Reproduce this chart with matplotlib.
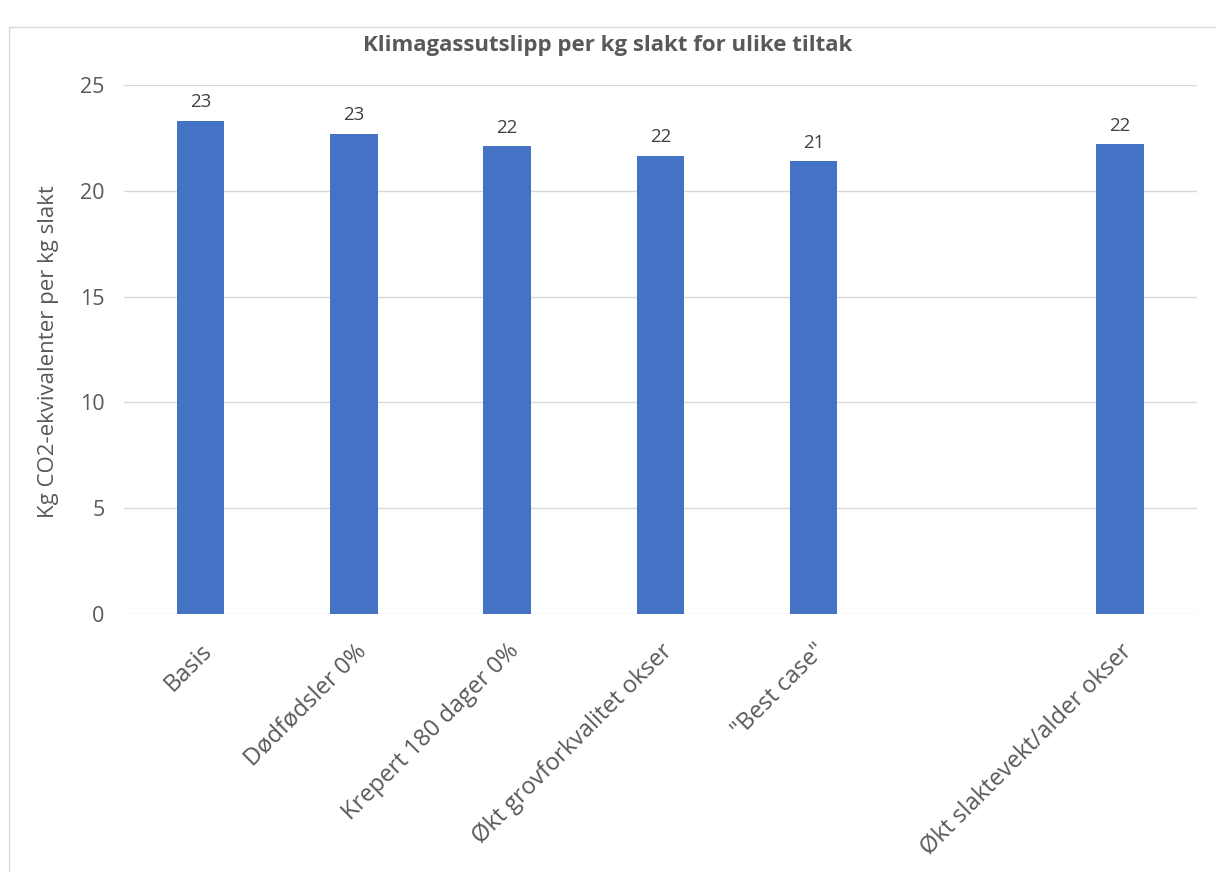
import matplotlib.pyplot as plt
from matplotlib.patches import Rectangle

# ---------- Data ----------
categories = ["Basis", "Dødfødsler 0%", "Krepert 180 dager 0%",
              "Økt grovforkvalitet okser", "\"Best case\"", "",
              "Økt slaktevekt/alder okser"]
values = [23.3, 22.7, 22.1, 21.65, 21.4, None, 22.2]
labels = ["23", "23", "22", "22", "21", "", "22"]

plt.rcParams["font.family"] = ["Open Sans", "DejaVu Sans"]
grey = "#595959"

fig = plt.figure(figsize=(12.16, 8.72), dpi=100)
ax = fig.add_axes([0.102, 0.2959, 0.882, 0.6066])

# outer chart border
fig.patches.append(Rectangle((9 / 1216, -0.1), 1.2, 1 - 27 / 872 + 0.1,
                             transform=fig.transFigure, fill=False,
                             edgecolor="#d9d9d9", linewidth=1))

xs = list(range(len(categories)))
for x, v, lab in zip(xs, values, labels):
    if v is None:
        continue
    ax.bar(x, v, width=0.31, color="#4472C4", zorder=3)
    ax.text(x, v + 0.45, lab, ha="center", va="bottom", fontsize=13.5,
            color="#404040")

ax.set_xlim(-0.5, len(categories) - 0.5)
ax.set_ylim(0, 25)
ax.set_yticks([0, 5, 10, 15, 20, 25])
ax.yaxis.grid(True, color="#d9d9d9", linewidth=1, zorder=0)
ax.set_axisbelow(True)
for s in ax.spines.values():
    s.set_visible(False)
ax.tick_params(axis="y", length=0, colors=grey, labelsize=15.5, pad=14)
ax.set_xticks(xs)
ax.set_xticklabels(categories, rotation=45, ha="right", rotation_mode="anchor")
ax.tick_params(axis="x", length=0, colors=grey, labelsize=17, pad=18)

ax.set_ylabel("Kg CO2-ekvivalenter per kg slakt", fontsize=16, color=grey)
ax.yaxis.set_label_coords(-0.061, 0.497)
fig.text(0.5, 1 - 45 / 872, "Klimagassutslipp per kg slakt for ulike tiltak",
         ha="center", va="center", fontsize=16, fontweight="bold", color=grey)

fig.savefig("out.png", dpi=100)
